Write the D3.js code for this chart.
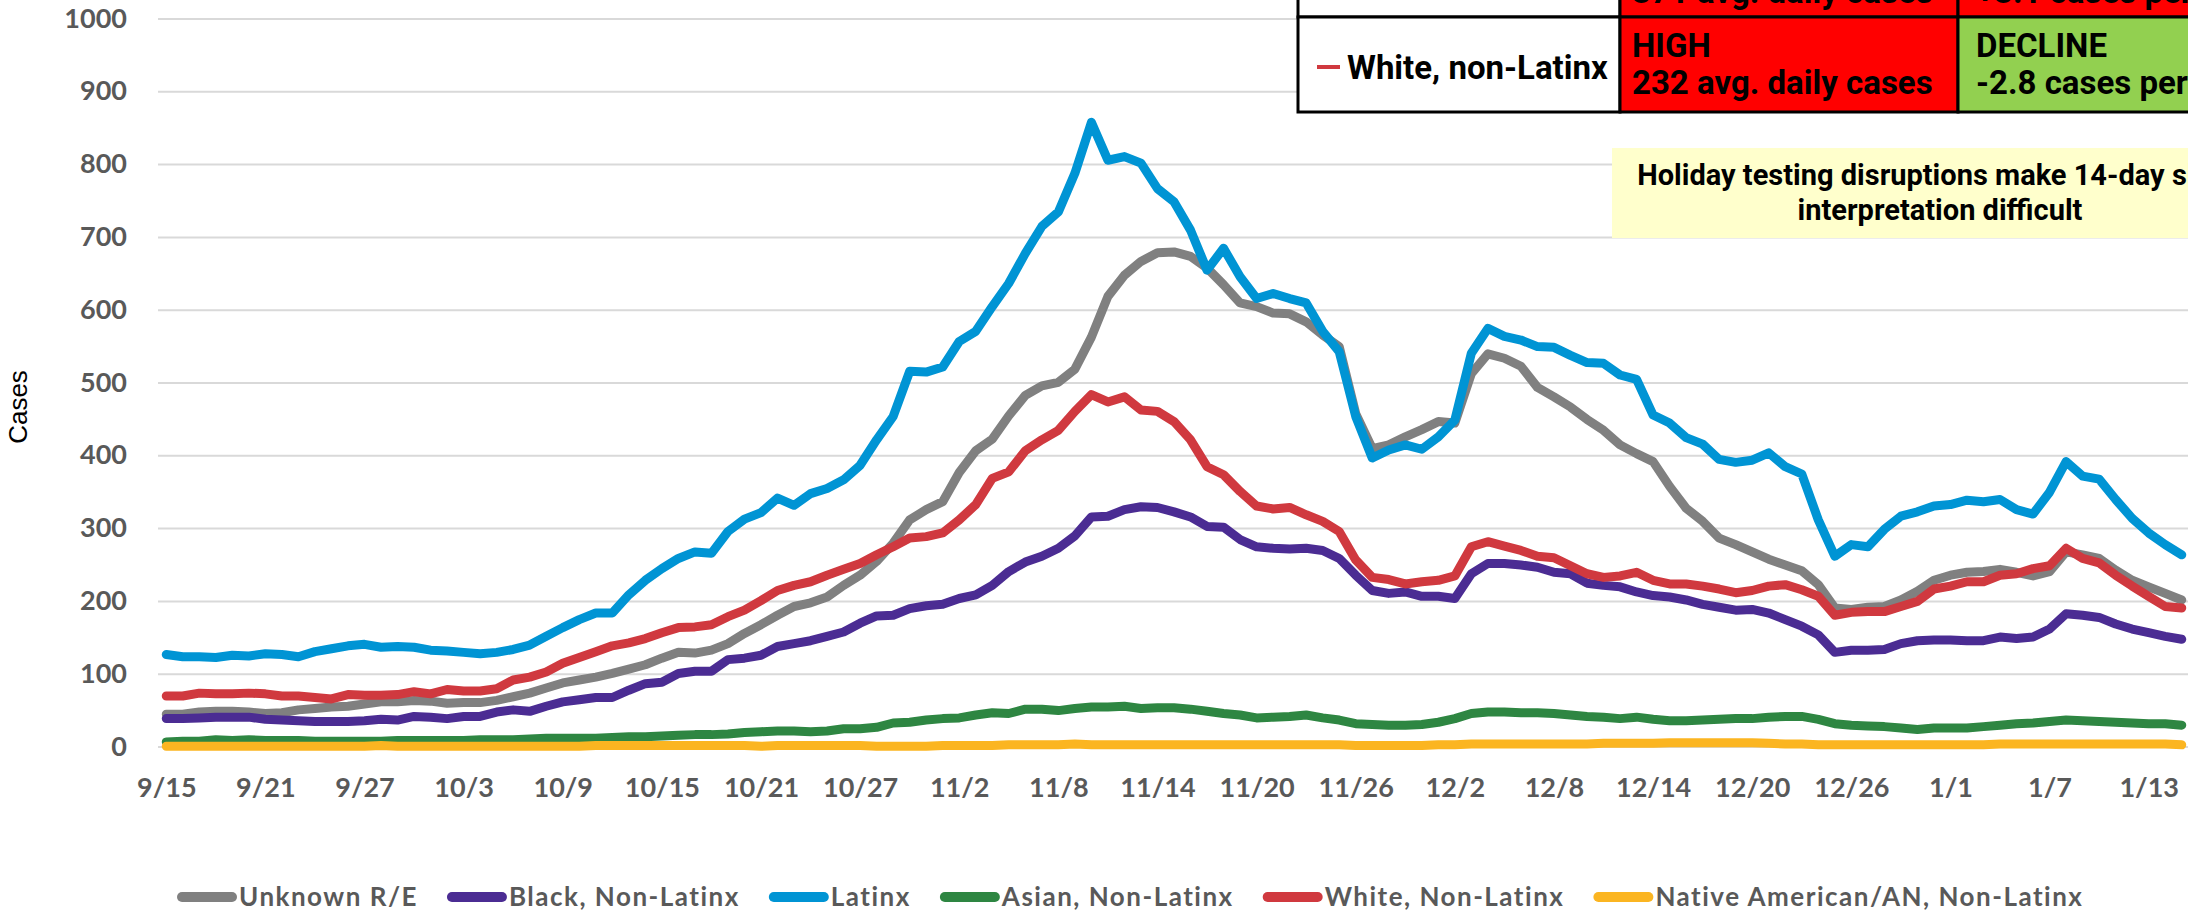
<!DOCTYPE html>
<html>
<head>
<meta charset="utf-8">
<script src="https://cdn.jsdelivr.net/npm/d3@7"></script>
<style>
  body { margin: 0; background: #fff; overflow: hidden; }
</style>
</head>
<body>
<script>
// daily categories 9/15 .. 1/15
const days = d3.timeDay.range(new Date(2020, 8, 15), new Date(2021, 0, 16));
const dayLabels = days.map(d3.timeFormat("%-m/%-d"));
const tickLabels = ["9/15", "9/21", "9/27", "10/3", "10/9", "10/15", "10/21", "10/27", "11/2", "11/8",
  "11/14", "11/20", "11/26", "12/2", "12/8", "12/14", "12/20", "12/26", "1/1", "1/7", "1/13"];
const yTicks = [0, 100, 200, 300, 400, 500, 600, 700, 800, 900, 1000];

const seriesNames = ["Unknown R/E", "Black, Non-Latinx", "Latinx", "Asian, Non-Latinx",
  "White, Non-Latinx", "Native American/AN, Non-Latinx"];
const seriesColors = ["#808080", "#4b2c93", "#0094d4", "#2e8642", "#d0393f", "#fbb521"];

const unknownRE = [
  45, 45, 48, 49, 49, 48, 46, 47, 51, 53,
  55, 56, 59, 62, 62, 64, 63, 60, 61, 61,
  64, 69, 74, 81, 88, 92, 96, 101, 107, 113,
  122, 130, 129, 133, 142, 156, 168, 181, 193, 198,
  206, 222, 236, 255, 280, 312, 326, 337, 377, 407,
  423, 455, 483, 496, 501, 519, 563, 619, 648, 667,
  679, 680, 674, 658, 635, 610, 605, 596, 595, 584,
  566, 550, 458, 410, 415, 426, 436, 447, 445, 513,
  540, 534, 523, 494, 481, 467, 450, 435, 415, 403,
  392, 358, 328, 310, 287, 278, 268, 258, 250, 242,
  223, 191, 189, 192, 193, 202, 214, 229, 236, 240,
  241, 244, 240, 235, 241, 268, 264, 259, 243, 229,
  220, 211, 202];
const blackNL = [
  39, 39, 40, 41, 41, 41, 38, 37, 36, 35,
  35, 35, 36, 38, 37, 42, 41, 39, 42, 42,
  48, 51, 49, 56, 62, 65, 68, 68, 78, 87,
  89, 101, 104, 104, 120, 122, 126, 138, 142, 146,
  152, 158, 170, 180, 181, 190, 194, 196, 204, 209,
  222, 241, 254, 262, 273, 290, 316, 317, 326, 330,
  329, 323, 316, 303, 302, 285, 275, 273, 272, 273,
  270, 259, 236, 215, 211, 213, 207, 207, 204, 238,
  252, 252, 250, 247, 240, 238, 225, 222, 220, 213,
  208, 206, 202, 196, 192, 188, 189, 184, 175, 166,
  154, 130, 133, 133, 134, 142, 146, 147, 147, 146,
  146, 151, 149, 151, 162, 183, 181, 178, 169, 162,
  157, 152, 148];
const latinx = [
  127, 124, 124, 123, 126, 125, 128, 127, 124, 131,
  135, 139, 141, 137, 138, 137, 133, 132, 130, 128,
  130, 134, 140, 152, 164, 175, 184, 184, 209, 229,
  245, 259, 268, 266, 296, 313, 322, 342, 332, 348,
  355, 367, 387, 422, 454, 516, 515, 522, 557, 571,
  605, 637, 678, 715, 735, 788, 858, 806, 811, 802,
  767, 749, 710, 655, 685, 646, 616, 623, 616, 610,
  571, 543, 454, 397, 408, 415, 409, 426, 449, 541,
  575, 564, 559, 550, 549, 538, 528, 527, 511, 505,
  456, 445, 425, 416, 395, 391, 394, 404, 385, 375,
  312, 262, 278, 275, 299, 317, 323, 331, 333, 339,
  337, 340, 326, 320, 350, 392, 372, 368, 340, 314,
  294, 278, 264];
const asianNL = [
  7, 8, 8, 10, 9, 10, 9, 9, 9, 8,
  8, 8, 8, 8, 9, 9, 9, 9, 9, 10,
  10, 10, 11, 12, 12, 12, 12, 13, 14, 14,
  15, 16, 17, 17, 18, 20, 21, 22, 22, 21,
  22, 25, 25, 27, 33, 34, 37, 39, 40, 44,
  47, 46, 52, 52, 50, 53, 55, 55, 56, 53,
  54, 54, 52, 49, 46, 44, 40, 41, 42, 44,
  40, 37, 32, 31, 30, 30, 31, 34, 39, 46,
  48, 48, 47, 47, 46, 44, 42, 41, 39, 41,
  38, 36, 36, 37, 38, 39, 39, 41, 42, 42,
  38, 32, 30, 29, 28, 26, 24, 26, 26, 26,
  28, 30, 32, 33, 35, 37, 36, 35, 34, 33,
  32, 32, 30];
const whiteNL = [
  70, 70, 74, 73, 73, 74, 73, 70, 70, 68,
  66, 72, 71, 71, 72, 76, 73, 79, 77, 77,
  80, 92, 96, 103, 115, 123, 131, 139, 143, 149,
  157, 164, 165, 168, 179, 188, 201, 215, 222, 227,
  236, 244, 252, 264, 275, 287, 289, 294, 312, 333,
  369, 378, 407, 422, 435, 461, 484, 474, 481, 463,
  461, 447, 422, 385, 374, 351, 331, 327, 329, 319,
  310, 296, 257, 233, 230, 224, 227, 229, 235, 275,
  282, 276, 270, 262, 260, 249, 238, 233, 235, 240,
  229, 224, 224, 221, 217, 212, 215, 221, 223, 216,
  207, 181, 185, 186, 186, 193, 200, 217, 221, 227,
  227, 236, 238, 245, 249, 273, 259, 253, 236, 221,
  207, 193, 191];
const nativeNL = [
  1, 1, 1, 1, 1, 1, 1, 1, 1, 1,
  1, 1, 1, 2, 1, 1, 1, 1, 1, 1,
  1, 1, 1, 1, 1, 1, 2, 2, 2, 2,
  2, 2, 2, 2, 2, 2, 1, 2, 2, 2,
  2, 2, 2, 1, 1, 1, 1, 2, 2, 2,
  2, 3, 3, 3, 3, 4, 3, 3, 3, 3,
  3, 3, 3, 3, 3, 3, 3, 3, 3, 3,
  3, 3, 2, 2, 2, 2, 2, 3, 3, 4,
  4, 4, 4, 4, 4, 4, 4, 5, 5, 5,
  5, 6, 6, 6, 6, 6, 6, 5, 4, 4,
  3, 3, 3, 3, 3, 3, 3, 3, 3, 3,
  3, 4, 4, 4, 4, 4, 4, 4, 4, 4,
  4, 4, 3];

const seriesValues = [unknownRE, blackNL, latinx, asianNL, whiteNL, nativeNL];

// status table + note texts
const tableRowLabel = "White, non-Latinx";
const levelText = ["HIGH", "232 avg. daily cases"];
const trendText = ["DECLINE", "-2.8 cases per day"];
const prevRowText = ["371 avg. daily cases", "+3.1 cases per day"];
const noteLines = ["Holiday testing disruptions make 14-day slope", "interpretation difficult"];

const W = 2188, H = 913;
const svg = d3.select("body").append("svg")
  .attr("width", W).attr("height", H)
  .style("font-family", "Lato, 'Open Sans', sans-serif");

const x = d3.scalePoint().domain(dayLabels).range([158, 2190]).padding(0.5);
const y = d3.scaleLinear().domain([0, 1000]).range([747, 19]);

// gridlines
svg.append("g").selectAll("line").data(yTicks).join("line")
  .attr("x1", 158).attr("x2", W)
  .attr("y1", d => y(d)).attr("y2", d => y(d))
  .attr("stroke", "#d9d9d9").attr("stroke-width", 2);

// y axis labels
const yAxis = svg.append("g").attr("transform", "translate(127,0)")
  .call(d3.axisLeft(y).tickValues(yTicks).tickFormat(d3.format("d")).tickSize(0).tickPadding(0));
yAxis.select(".domain").remove();
yAxis.selectAll("text")
  .attr("font-family", "Lato, sans-serif").attr("font-weight", 700)
  .attr("font-size", 27).attr("fill", "#595959").attr("dy", "0.3em");

// x axis labels
const xAxis = svg.append("g").attr("transform", "translate(0,788)")
  .call(d3.axisBottom(x).tickValues(tickLabels).tickSize(0).tickPadding(0));
xAxis.select(".domain").remove();
xAxis.selectAll("text")
  .attr("font-family", "Lato, sans-serif").attr("font-weight", 700)
  .attr("font-size", 27).attr("fill", "#595959").attr("dy", "0.35em");

// y title
svg.append("text")
  .attr("transform", "translate(18,407) rotate(-90)")
  .attr("text-anchor", "middle").attr("dominant-baseline", "central")
  .attr("font-family", "'Liberation Sans', Arial, sans-serif")
  .attr("font-size", 26).attr("fill", "#000")
  .text("Cases");

// lines
const line = d3.line()
  .x((d, i) => x(dayLabels[i]))
  .y(d => y(d));

svg.append("g").selectAll("path").data(seriesValues).join("path")
  .attr("d", line)
  .attr("fill", "none")
  .attr("stroke", (d, i) => seriesColors[i])
  .attr("stroke-width", 9)
  .attr("stroke-linejoin", "round")
  .attr("stroke-linecap", "round");

// legend
const legend = svg.append("g").attr("transform", "translate(0,897)");
let lx = 182;
seriesNames.forEach((name, i) => {
  legend.append("line")
    .attr("x1", lx).attr("x2", lx + 50).attr("y1", 0).attr("y2", 0)
    .attr("stroke", seriesColors[i]).attr("stroke-width", 10)
    .attr("stroke-linecap", "round");
  const t = legend.append("text")
    .attr("x", lx + 57).attr("y", 0).attr("dy", "0.36em")
    .attr("font-family", "Lato, sans-serif").attr("font-weight", 700)
    .attr("font-size", 26).attr("letter-spacing", 1.5)
    .attr("fill", "#595959")
    .text(name);
  lx += 57 + t.node().getComputedTextLength() + 34;
});

// status table (cropped at top/right in the original)
const tbl = svg.append("g").style("font-family", "Roboto, sans-serif").attr("font-weight", 700);
const colX = [1298, 1620, 1958, 2400];
const rowY = [-90, 17, 112];
const cellFill = [["#ffffff", "#ff0000", "#ff0000"], ["#ffffff", "#ff0000", "#92d050"]];
cellFill.forEach((row, r) => row.forEach((c, k) => {
  tbl.append("rect")
    .attr("x", colX[k]).attr("y", rowY[r])
    .attr("width", colX[k + 1] - colX[k]).attr("height", rowY[r + 1] - rowY[r])
    .attr("fill", c).attr("stroke", "#000").attr("stroke-width", 3);
}));
tbl.append("text").attr("x", 1632).attr("y", 3).attr("font-size", 33).text(prevRowText[0]);
tbl.append("text").attr("x", 1976).attr("y", 3).attr("font-size", 33).text(prevRowText[1]);

tbl.append("line").attr("x1", 1317).attr("x2", 1340).attr("y1", 67).attr("y2", 67)
  .attr("stroke", seriesColors[4]).attr("stroke-width", 4);
tbl.append("text").attr("x", 1347).attr("y", 79).attr("font-size", 33).text(tableRowLabel);
tbl.append("text").attr("x", 1632).attr("y", 57).attr("font-size", 33).text(levelText[0]);
tbl.append("text").attr("x", 1632).attr("y", 94).attr("font-size", 33).text(levelText[1]);
tbl.append("text").attr("x", 1976).attr("y", 57).attr("font-size", 33).text(trendText[0]);
tbl.append("text").attr("x", 1976).attr("y", 94).attr("font-size", 33).text(trendText[1]);

// note box
const note = svg.append("g").style("font-family", "Roboto, sans-serif").attr("font-weight", 700);
note.append("rect").attr("x", 1612).attr("y", 148).attr("width", 700).attr("height", 90)
  .attr("fill", "#ffffcc");
note.selectAll("text").data(noteLines).join("text")
  .attr("x", 1940).attr("y", (d, i) => 185 + i * 35)
  .attr("text-anchor", "middle").attr("font-size", 29).attr("fill", "#000")
  .text(d => d);
</script>
</body>
</html>
